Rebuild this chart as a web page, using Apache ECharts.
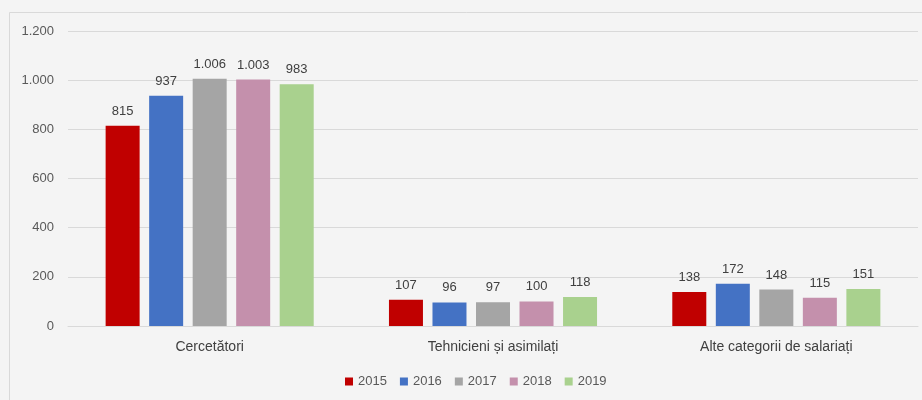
<!DOCTYPE html>
<html><head><meta charset="utf-8">
<script src="https://cdn.jsdelivr.net/npm/echarts@6/dist/echarts.min.js"></script>
<style>html,body{margin:0;padding:0;background:#f4f4f4;}#c{width:922px;height:400px;}</style>
</head><body><div id="c"></div>
<script>
const categories = ['Cercetători', 'Tehnicieni și asimilați', 'Alte categorii de salariați'];
const years = ['2015', '2016', '2017', '2018', '2019'];
const s2015 = [815, 107, 138];
const s2016 = [937, 96, 172];
const s2017 = [1006, 97, 148];
const s2018 = [1003, 100, 115];
const s2019 = [983, 118, 151];
const yTicks = [0, 200, 400, 600, 800, 1000, 1200];
const colors = ['#c00000', '#4472c4', '#a5a5a5', '#c490ac', '#a9d18e'];
const seriesData = [s2015, s2016, s2017, s2018, s2019];
const FONT = 'Liberation Sans, Arial, sans-serif';
const fmt = v => String(v).replace(/\B(?=(\d{3})+(?!\d))/g, '.');
const chart = echarts.init(document.getElementById('c'));
chart.setOption({
  backgroundColor: '#f4f4f4',
  animation: false,
  textStyle: {fontFamily: FONT},
  graphic: [{type: 'rect', shape: {x: 9.5, y: 12.5, width: 940, height: 400}, style: {fill: 'none', stroke: '#d9d9d9', lineWidth: 1}, z: 0}],
  grid: {left: 68, right: 4, top: 31, bottom: 74},
  legend: {
    bottom: 7, left: 340, itemWidth: 8, itemHeight: 8, itemGap: 13, icon: 'rect',
    textStyle: {color: '#595959', fontSize: 13, fontFamily: FONT},
    data: years
  },
  xAxis: {
    type: 'category', data: categories,
    axisLine: {lineStyle: {color: '#d9d9d9'}}, axisTick: {show: false},
    axisLabel: {color: '#404040', fontSize: 14, margin: 14, fontFamily: FONT}
  },
  yAxis: {
    type: 'value', min: 0, max: 1200, interval: 200,
    axisLine: {show: false}, axisTick: {show: false},
    splitLine: {lineStyle: {color: '#d9d9d9'}},
    axisLabel: {color: '#595959', fontSize: 13, margin: 14, formatter: fmt, fontFamily: FONT}
  },
  series: seriesData.map((d, i) => ({
    name: years[i], type: 'bar', data: d, barWidth: 34, barGap: '28%', barCategoryGap: '26%',
    itemStyle: {color: colors[i]},
    label: {show: true, position: 'top', distance: 8, color: '#404040', fontSize: 13, formatter: p => fmt(p.value), fontFamily: FONT}
  }))
});
</script></body></html>
